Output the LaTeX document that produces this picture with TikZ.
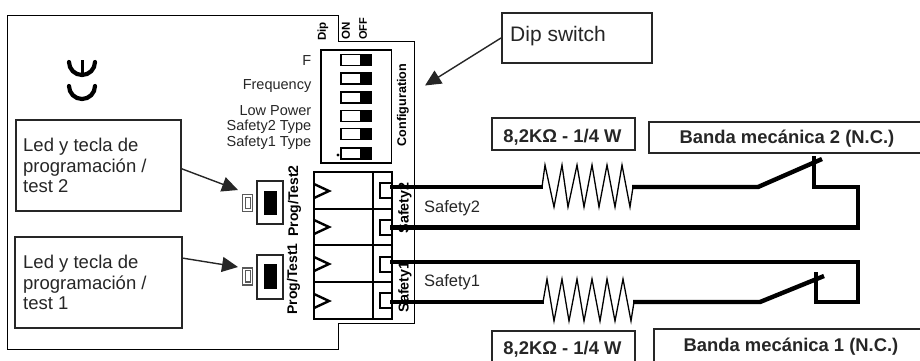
\documentclass[tikz,border=0pt]{standalone}
\usepackage{fontspec}
\setmainfont{Liberation Sans}
\usetikzlibrary{arrows.meta}
\definecolor{ink}{gray}{0.15}
\tikzset{
 board line/.style={draw=black,line width=1pt},
 box/.style={draw=ink,line width=1.5pt,fill=white,inner sep=0pt,anchor=north west},
 wire/.style={draw=black,line width=4.4pt,line join=miter},
 resistor/.style={draw=black,line width=1.3pt,line join=miter},
 heavy/.style={draw=black,line width=2pt},
 callout/.style={draw=ink,line width=1.4pt,-{Triangle[length=16pt,width=15pt]}},
 lab/.style={font=\fontsize{14.5}{16}\selectfont,text=ink,inner sep=0pt},
 boxtext/.style={font=\fontsize{18.5}{20.5}\selectfont,text=ink,inner sep=0pt,align=left,anchor=west},
 boldtext/.style={font=\fontsize{18.4}{20}\selectfont\bfseries,text=ink,inner sep=0pt},
 vlab/.style={rotate=90,inner sep=0pt,text=black},
 wirelab/.style={font=\fontsize{16.5}{18}\selectfont,text=ink,inner sep=0pt,anchor=west},
}
\begin{document}
\begin{tikzpicture}[x=1pt,y=-1pt]
\useasboundingbox (0,0) rectangle (920,360);
% board outline
\draw[board line] (7,15.7) -- (338.5,15.7) -- (338.5,41) -- (414.5,41) -- (414.5,323) -- (338.5,323) -- (338.5,349) -- (7,349) -- cycle;
% CE mark
\draw[line width=4.2pt,line cap=round] (69,62) arc[start angle=180,end angle=0,radius=13];
\draw[line width=4.2pt,line cap=round] (69,86) arc[start angle=180,end angle=0,radius=13];
\draw[line width=3pt] (82,60) -- (82,75);
% dip switch body
\draw[line width=1.8pt] (321,50) rectangle (391.5,163);
\foreach \y in {54.5,73,92,110.5,128.5,148}{
  \draw[line width=1.3pt,fill=white] (341,\y) rectangle (371,\y+11);
  \fill (360,\y-0.5) rectangle (371.5,\y+11.5);
}
\fill (338,155) circle (1.6);
% dip labels
\node[lab,anchor=east] (lf) at (311.5,61) {F};
\node[lab,anchor=east] (lfr) at (311.5,86) {Frequency};
\node[lab,anchor=east] (llp) at (311.5,111) {Low Power};
\node[lab,anchor=east] (ls2) at (311.5,127) {Safety2 Type};
\node[lab,anchor=east] (ls1) at (311.5,143) {Safety1 Type};
\node[vlab,anchor=west,font=\fontsize{11.5}{12}\selectfont\bfseries] (dip) at (323,41) {Dip};
\node[vlab,anchor=west,font=\fontsize{11.5}{12}\selectfont\bfseries] (on) at (346,40) {ON};
\node[vlab,anchor=west,font=\fontsize{11}{12}\selectfont\bfseries] (off) at (363,40) {OFF};
\node[vlab,font=\fontsize{12.6}{13}\selectfont\bfseries] (cfg) at (403,105) {Configuration};
% vertical labels under the wires
\node[vlab,font=\fontsize{14.3}{15}\selectfont\bfseries] (sf2) at (405,208) {Safety2};
\node[vlab,font=\fontsize{14.3}{15}\selectfont\bfseries] (sf1) at (405,287) {Safety1};
\node[vlab,font=\fontsize{14}{15}\selectfont\bfseries] (pt2) at (294.5,201) {Prog/Test2};
\node[vlab,font=\fontsize{14}{15}\selectfont\bfseries] (pt1) at (293.5,279) {Prog/Test1};
% terminal block
\draw[heavy] (314,172) rectangle (392,319);
\draw[heavy] (373,172) -- (373,319);
\foreach \y in {209,245,282}{\draw[heavy] (314,\y) -- (392,\y);}
\foreach \y in {191,227,264,301}{
  \draw[heavy,line width=2.4pt] (314,\y-7) -- (329,\y) -- (314,\y+7);
}
\foreach \y in {190.5,227.5,264.5,300.5}{
  \draw[heavy] (392,\y-7.5) -- (380,\y-7.5) -- (380,\y+7.5) -- (392,\y+7.5);
}
% leds and keys
\draw[line width=1.2pt,draw=black!65] (242.5,194.5) rectangle (252.5,211.5);
\draw[line width=1.2pt,draw=black!65] (245.5,197.5) rectangle (250.5,208.5);
\draw[line width=1.2pt,draw=black!65] (242.5,268) rectangle (252.5,285);
\draw[line width=1.2pt,draw=black!65] (245.5,270.5) rectangle (250.5,282);
\draw[line width=1.2pt,draw=ink] (257,181) rectangle (283,224);
\fill (264,191) rectangle (277,215);
\draw[line width=1.2pt,draw=ink] (257,255) rectangle (283,299);
\fill (264,264) rectangle (277,289);
% callouts
\node[box,minimum width=165pt,minimum height=91pt] (c2) at (15,119) {};
\node[boxtext] (c2t) at (23,165.5) {Led y tecla de\\programación /\\test 2};
\node[box,minimum width=167pt,minimum height=91pt] (c1) at (14,236) {};
\node[boxtext] (c1t) at (23,282.5) {Led y tecla de\\programación /\\test 1};
\coordinate (s2) at (181,168.5);
\coordinate (a2) at (238,190);
\coordinate (s1) at (182,258);
\coordinate (a1) at (238,267);
\draw[callout] (s2) -- (a2);
\draw[callout] (s1) -- (a1);
\node[box,minimum width=150pt,minimum height=50pt] (dsw) at (501,12) {};
\node[inner sep=0pt,anchor=west,font=\fontsize{21}{23}\selectfont,text=ink] (dswt) at (510,36) {Dip switch};
\coordinate (ds0) at (501,38);
\coordinate (dsa) at (425,85.5);
\draw[callout] (ds0) -- (dsa);
% labels of the circuits
\node[box,minimum width=143pt,minimum height=32pt] (r2) at (491,117) {};
\node[boldtext] (r2t) at (562.5,137) {8,2KΩ - 1/4 W};
\node[box,minimum width=280pt,minimum height=31pt] (m2) at (648,121) {};
\node[boldtext] (m2t) at (787,139) {Banda mecánica 2 (N.C.)};
\node[box,minimum width=143pt,minimum height=40pt] (r1) at (491,330) {};
\node[boldtext] (r1t) at (562.5,349) {8,2KΩ - 1/4 W};
\node[box,minimum width=280pt,minimum height=42pt] (m1) at (653,328) {};
\node[boldtext] (m1t) at (791,347) {Banda mecánica 1 (N.C.)};
% top circuit
\draw[wire] (390,187) -- (543,187);
\draw[resistor] (542,187) -- (545,165) -- (554,207) -- (562,165) -- (568,207) -- (577,165) -- (584,207) -- (592,165) -- (599,207) -- (607,165) -- (615,207) -- (622,165) -- (630,207) -- (633,187);
\draw[wire] (632,187) -- (758,187) -- (822,159);
\draw[wire] (814,156) -- (814,187) -- (858,187) -- (858,227.5) -- (390,227.5);
% bottom circuit
\draw[wire] (390,262) -- (858,262) -- (858,302) -- (816,302) -- (816,272);
\draw[wire] (824,276) -- (760,302) -- (633,302);
\draw[resistor] (543,302) -- (547,279) -- (554,321) -- (562,279) -- (569,321) -- (577,279) -- (584,321) -- (592,279) -- (600,321) -- (607,279) -- (615,321) -- (623,279) -- (631,321) -- (634,302);
\draw[wire] (390,302) -- (544,302);
% wire labels
\node[wirelab] (w2) at (424,208) {Safety2};
\node[wirelab] (w1) at (424,282) {Safety1};
\end{tikzpicture}
\end{document}
